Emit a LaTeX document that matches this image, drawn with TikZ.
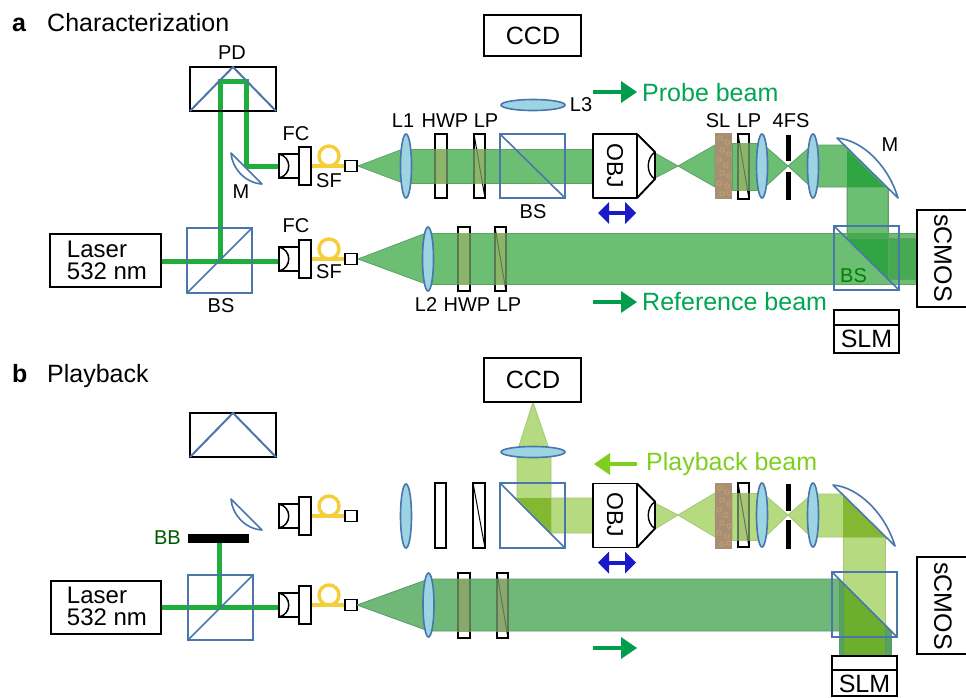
\documentclass[tikz,border=0pt]{standalone}
\usepackage{fontspec}
\setmainfont{Liberation Sans}
\definecolor{bmA}{HTML}{6CBE73}
\definecolor{bmAe}{HTML}{5EA066}
\definecolor{bmAd}{HTML}{2FA642}
\definecolor{bmAm}{HTML}{45AA52}
\definecolor{bmP}{HTML}{B6DA80}
\definecolor{bmPe}{HTML}{A3C878}
\definecolor{bmPd}{HTML}{84B832}
\definecolor{bmR}{HTML}{6FB878}
\definecolor{bmRe}{HTML}{559A68}
\definecolor{bmRm}{HTML}{57A262}
\definecolor{bmX}{HTML}{6CAE2E}
\definecolor{lensF}{HTML}{9DD4E4}
\definecolor{optB}{HTML}{4A76AC}
\definecolor{lsr}{HTML}{1FAE3C}
\definecolor{fib}{HTML}{F5CE3A}
\definecolor{grT}{HTML}{00A651}
\definecolor{grA}{HTML}{009E4C}
\definecolor{ltT}{HTML}{7FD01E}
\definecolor{blA}{HTML}{1A1AC8}
\definecolor{slF}{HTML}{A88E74}
\definecolor{slR}{HTML}{C6A263}
\definecolor{patA}{HTML}{8DB56A}
\definecolor{patB}{HTML}{A8C676}
\definecolor{patC}{HTML}{8AA86C}
\definecolor{dimA}{HTML}{5A7A55}
\newcommand\fa{\fontsize{25}{26}\selectfont}
\newcommand\fl{\fontsize{24}{22}\selectfont}
\newcommand\fo{\fontsize{23}{24}\selectfont}
\newcommand\fb{\fontsize{20}{21}\selectfont}
\tikzset{
  blk/.style={draw=black,line width=1.9pt},
  platest/.style={draw=black,fill=white,line width=1.9pt},
  lensst/.style={draw=optB,fill=lensF,line width=1.6pt},
  bsst/.style={draw=optB,line width=1.6pt},
  mirst/.style={draw=optB,fill=white,line width=1.6pt,line join=round},
  beamA/.style={fill=bmA,draw=bmAe,line width=.8pt,line join=round},
  beamP/.style={fill=bmP,draw=bmPe,line width=.8pt,line join=round},
  beamR/.style={fill=bmR,draw=bmRe,line width=.8pt,line join=round},
  laserline/.style={draw=lsr,line width=5pt},
  lab/.style={inner sep=0pt,font=\fb},
  labbig/.style={inner sep=0pt,font=\fa},
}
\newcommand\plateB[4]{\draw[platest] (#1,#3) rectangle (#2,#4);}
\newcommand\lpB[4]{\draw[platest] (#1,#3) rectangle (#2,#4); \draw[black,line width=1pt] (#1,#3) -- (#2,#4);}
\newcommand\plateO[7]{\begin{scope}\clip (#1-2,#5) rectangle (#2+2,#6);
  \fill[#7] (#1,#3) rectangle (#2,#4); \draw[dimA,line width=1.6pt] (#1,#3) rectangle (#2,#4);\end{scope}}
\newcommand\lpO[7]{\begin{scope}\clip (#1-2,#5) rectangle (#2+2,#6);
  \fill[#7] (#1,#3) rectangle (#2,#4); \draw[dimA,line width=1.6pt] (#1,#3) rectangle (#2,#4);
  \draw[dimA,line width=1pt] (#1,#3) -- (#2,#4);\end{scope}}
\newcommand\lensV[2]{\draw[lensst] (#1,#2) ellipse [x radius=5.5pt,y radius=32pt];}
\newcommand\lensH[2]{\draw[lensst] (#1,#2) ellipse [x radius=32pt,y radius=5.5pt];}
\newcommand\fcunit[1]{\begin{scope}[shift={(0,#1)}]
  \draw[fib,line width=3.4pt] (311,0) -- (345,0);
  \draw[fib,line width=3.4pt] (329,-10) circle [radius=10pt];
  \draw[platest] (299,-19) rectangle (311,19);
  \draw[platest] (279,-12) rectangle (299,12);
  \draw[black,line width=1.5pt] (279,-12) .. controls (292,-9) and (292,9) .. (279,12);
  \draw[platest] (345,-5.5) rectangle (357,5.5);
\end{scope}}
\newcommand\objunit[1]{\begin{scope}[shift={(0,#1)}]
  \draw[platest,line join=round] (593,-32) rectangle (637,32);
  \draw[blk,line join=round] (637,-32) -- (655,-14) -- (655,13) -- (637,32);
  \draw[black,line width=1.4pt] (655,-14) .. controls (646,-8) and (646,8) .. (655,13);
  \draw[blA,line width=4pt] (605,47) -- (630,47);
  \fill[blA] (598,47) -- (609,36) -- (609,58) -- cycle;
  \fill[blA] (636,47) -- (625,36) -- (625,58) -- cycle;
\end{scope}}
\newcommand\slunit[3]{\fill[slF] (715,#1) rectangle (732,#2);
  \begin{scope}[shift={(0,#3)}]\foreach \px/\py in {720/-28,727/-24,722/-16,729/-12,719/-6,726/-1,722/7,729/10,719/17,727/20,722/28,729/27}
    {\draw[slR,line width=.8pt] (\px,\py) circle [radius=2.3pt];}\end{scope}}
\newcommand\rarrow[3]{\draw[#1,line width=4pt] (#2,#3) -- (#2+30,#3);
  \fill[#1] (#2+44,#3) -- (#2+28,#3-11) -- (#2+28,#3+11) -- cycle;}
\newcommand\apert[4]{\fill[black] (785.5,#1) rectangle (790.5,#2); \fill[black] (785.5,#3) rectangle (790.5,#4);}
\begin{document}
\begin{tikzpicture}[x=1pt,y=-1pt]
\useasboundingbox (0,0) rectangle (966,697);
\fill[white] (0,0) rectangle (966,697);

%% ---------- panel a ----------
\node[inner sep=0pt,anchor=base west,font=\fa\bfseries] (pa) at (12,31) {a};
\node[labbig,anchor=base west] (ta) at (47,31) {Characterization};
\draw[blk] (484,15) rectangle (581,56);
\node[labbig] (ccdA) at (533,36) {CCD};
% laser lines
\draw[laserline] (220,261) -- (220,81) -- (246,81) -- (246,166) -- (280,166);
\draw[laserline] (161,261) -- (280,261);
% PD
\draw[blk] (190,67) rectangle (276,111);
\draw[optB,line width=2pt,line join=round] (190,111) -- (233,67) -- (276,111);
\node[lab] (pdA) at (232,53) {PD};
% Laser
\draw[blk] (50,234) rectangle (161,287);
\node[inner sep=0pt,font=\fl,align=left] (lasA) at (107,260) {Laser\\532 nm};
% BS1
\draw[bsst] (187,228) rectangle (252,293);
\draw[bsst] (187,293) -- (252,228);
\node[lab] (bs1A) at (221,306) {BS};
% M small
\draw[mirst] (231,153) .. controls (232,168) and (245,183) .. (262,184) -- cycle;
\node[lab] (m1A) at (241,192) {M};
\fcunit{166}\fcunit{259}
\node[lab] (fc1A) at (296,134) {FC};
\node[lab] (sf1A) at (329,181) {SF};
\node[lab] (fc2A) at (296,226) {FC};
\node[lab] (sf2A) at (329,272) {SF};
% plates below beams
\plateB{435}{447}{134}{198}
\lpB{474}{485}{134}{198}
\lpB{738}{749}{134}{199}
\plateB{458}{470}{227}{291}
\lpB{495}{506}{227}{291}
% beams upper
\draw[beamA] (358,166) -- (403,149) -- (403,183) -- cycle;
\draw[beamA] (403,149) rectangle (593,183);
\draw[beamA] (655,153) -- (678,166) -- (655,178) -- cycle;
\draw[beamA] (678,166) -- (715,145) -- (715,187) -- cycle;
\draw[beamA] (732,143) rectangle (762,190);
\draw[beamA] (765,146) -- (788,166) -- (765,187) -- cycle;
\draw[beamA] (788,166) -- (811,146) -- (811,187) -- cycle;
\draw[beamA] (813,145) -- (844,145) -- (887,187) -- (813,187) -- cycle;
\draw[beamA] (847,187) -- (888,187) -- (888,280) -- (847,239) -- cycle;
\fill[bmAd] (847,150) -- (885,187) -- (847,187) -- cycle;
% reference
\draw[beamA] (358,259) -- (426,233) -- (426,284) -- cycle;
\draw[beamA] (426,233) rectangle (917,284);
\fill[bmAm] (847,233) -- (888,233) -- (888,238) -- (847,238) -- cycle;
\fill[bmAd] (847,238) -- (888,238) -- (888,279) -- cycle;
\fill[bmAm] (888,238) rectangle (917,279);
\draw[bmAe,line width=.8pt] (847,187) -- (847,239);
\draw[bmAe,line width=.8pt] (888,187) -- (888,280);
\draw[bmAe,line width=.8pt] (847,238) -- (917,238);
\draw[bmAe,line width=.8pt] (888,279) -- (917,279);
% plates over
\plateO{435}{447}{134}{198}{149}{183}{patA}
\lpO{474}{485}{134}{198}{149}{183}{patA}
\lpO{738}{749}{134}{199}{143}{190}{patA}
\plateO{458}{470}{227}{291}{233}{284}{patA}
\lpO{495}{506}{227}{291}{233}{284}{patA}
% optics
\lensV{406}{166}\lensV{428}{259}\lensV{762}{166}\lensV{813}{166}
\lensH{533}{105}
\node[lab] (l3A) at (581,105) {L3};
\draw[bsst] (500,134) rectangle (565,198);
\draw[bsst] (500,134) -- (565,198);
\node[lab] (bs2A) at (533,212) {BS};
\objunit{166}
\node[inner sep=0pt,font=\fo,rotate=-90] (objA) at (615,166) {OBJ};
\slunit{133}{199}{166}
\apert{135}{161}{172}{200}
\draw[mirst] (837,138) .. controls (862,140) and (888,165) .. (898,198) -- cycle;
\node[lab] (m2A) at (890,145) {M};
\draw[bsst] (834,226) rectangle (899,290);
\draw[bsst] (834,226) -- (899,290);
\node[lab,text=green!50!black,anchor=west] (bs3A) at (840,276) {BS};
% labels row
\node[lab] (l1A) at (403,121) {L1};
\node[lab] (hw1A) at (445,121) {HWP};
\node[lab] (lp1A) at (486,121) {LP};
\node[lab] (slA) at (718,121) {SL};
\node[lab] (lp2A) at (749,121) {LP};
\node[lab] (fsA) at (791,121) {4FS};
\node[lab] (l2A) at (426,305) {L2};
\node[lab] (hw2A) at (467,305) {HWP};
\node[lab] (lp3A) at (509,305) {LP};
% beam labels
\rarrow{grA}{593}{92}
\node[labbig,text=grT,anchor=west] (probe) at (642,93) {Probe beam};
\rarrow{grA}{593}{302}
\node[labbig,text=grT,anchor=west] (refb) at (642,302) {Reference beam};
% SLM, sCMOS
\draw[blk] (834,310) rectangle (899,353);
\draw[blk] (834,325) -- (899,325);
\node[labbig] (slmA) at (866.5,339) {SLM};
\draw[blk] (966,210) -- (917,210) -- (917,307) -- (966,307);
\node[labbig,rotate=-90] (cmA) at (943,258) {sCMOS};

%% ---------- panel b ----------
\node[inner sep=0pt,anchor=base west,font=\fa\bfseries] (pb) at (12,382) {b};
\node[labbig,anchor=base west] (tb) at (47,382) {Playback};
\draw[blk] (190,413) rectangle (276,457);
\draw[optB,line width=2pt,line join=round] (190,457) -- (233,413) -- (276,457);
\draw[mirst] (231,499) .. controls (232,514) and (245,529) .. (262,530) -- cycle;
\draw[laserline] (219.5,543) -- (219.5,607);
\draw[laserline] (161,607) -- (280,607);
\fill[black] (188,534) rectangle (249,543);
\node[lab,text=green!35!black,anchor=east] (bbB) at (181,538) {BB};
\draw[blk] (51,581) rectangle (161,634);
\node[inner sep=0pt,font=\fl,align=left] (lasB) at (107,606.5) {Laser\\532 nm};
\draw[bsst] (188,575) rectangle (253,640);
\draw[bsst] (188,640) -- (253,575);
\fcunit{516}\fcunit{605}
\lensV{406}{516}
\plateB{435}{446}{483}{548}
\lpB{473}{485}{483}{548}
\plateB{458}{470}{573}{638}
\lpB{497}{508}{573}{638}
\lpB{738}{749}{483}{547}
% reference beam
\draw[beamR] (357,605) -- (426,580) -- (426,630) -- cycle;
\draw[beamR] (426,579) -- (839,579) -- (891,631) -- (426,631) -- cycle;
% playback beam
\draw[beamP] (655,503) -- (678,515) -- (655,529) -- cycle;
\draw[beamP] (678,515) -- (715,493) -- (715,537) -- cycle;
\draw[beamP] (732,493) rectangle (762,540);
\draw[beamP] (765,495) -- (788,515) -- (765,537) -- cycle;
\draw[beamP] (788,515) -- (811,495) -- (811,537) -- cycle;
\draw[beamP] (813,494) -- (842,494) -- (885,537) -- (813,537) -- cycle;
\draw[beamP] (843,537) -- (885,537) -- (885,656) -- (843,656) -- cycle;
\fill[bmPd] (843,495) -- (885,537) -- (843,537) -- cycle;
% reflected reference
\fill[bmRm] (839,579) -- (891,631) -- (891,656) -- (839,656) -- cycle;
\fill[bmX] (843,583) -- (885,625) -- (885,656) -- (843,656) -- cycle;
\draw[bmRe,line width=.8pt] (839,579) -- (839,656);
\draw[bmRe,line width=.8pt] (891,631) -- (891,656);
\draw[bmRe,line width=.8pt] (843,583) -- (843,656);
\draw[bmRe,line width=.8pt] (885,625) -- (885,656);
% to CCD
\fill[bmP] (593,498) -- (515,498) -- (550,533) -- (593,533) -- cycle;
\draw[bmPe,line width=.8pt] (593,498) -- (515,498) -- (550,533) -- (593,533);
\draw[beamP] (517,452) -- (551,452) -- (551,534) -- (517,500) -- cycle;
\fill[bmPd] (517,498) -- (551,498) -- (551,533) -- cycle;
\draw[beamP] (533,402) -- (548,446) -- (548,452) -- (519,452) -- (519,446) -- cycle;
% plates over
\plateO{458}{470}{573}{638}{579}{631}{patC}
\lpO{497}{508}{573}{638}{579}{631}{patC}
\lpO{738}{749}{483}{547}{493}{540}{patB}
% optics
\lensV{428.5}{605}\lensV{762}{515}\lensV{813}{515}
\lensH{533}{452}
\draw[bsst] (500,483) rectangle (565,548);
\draw[bsst] (500,483) -- (565,548);
\draw[blk] (484,358) rectangle (581,402);
\node[labbig] (ccdB) at (533,380) {CCD};
\objunit{515.5}
\node[inner sep=0pt,font=\fo,rotate=-90] (objB) at (615,515) {OBJ};
\slunit{483}{549}{516}
\apert{484}{510.5}{520}{549}
\draw[mirst] (833,485) .. controls (858,487) and (885,513) .. (895,546) -- cycle;
\draw[bsst] (832,572) rectangle (897,637);
\draw[bsst] (832,572) -- (897,637);
% arrows
\draw[ltT,line width=4pt] (608,464) -- (637,464);
\fill[ltT] (594,464) -- (610,453) -- (610,475) -- cycle;
\node[labbig,text=ltT,anchor=west] (play) at (646,464) {Playback beam};
\rarrow{grA}{593}{648}
\draw[blk] (832,656) rectangle (897,696);
\draw[blk] (832,670) -- (897,670);
\node[labbig] (slmB) at (864.5,684) {SLM};
\draw[blk] (966,557) -- (917,557) -- (917,654) -- (966,654);
\node[labbig,rotate=-90] (cmB) at (943,606) {sCMOS};
\end{tikzpicture}
\end{document}
